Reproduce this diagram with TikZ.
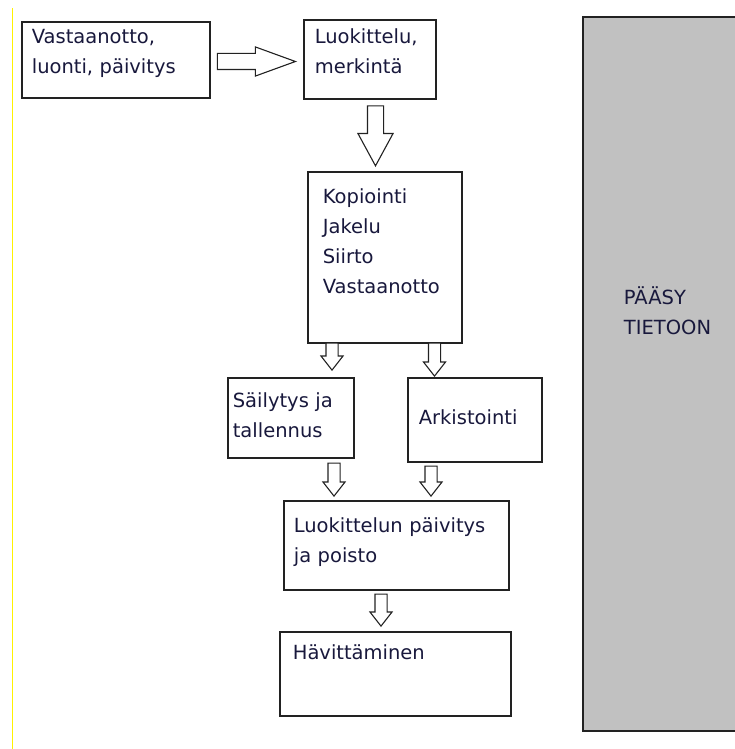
\documentclass[tikz,border=0pt]{standalone}
\usepackage{fontspec}
\setmainfont{DejaVu Sans}
\usepackage{xcolor}
\usetikzlibrary{shapes.arrows, positioning, calc}
\definecolor{inkblue}{RGB}{24,24,60}
\definecolor{framegray}{RGB}{34,34,34}
\definecolor{accessgray}{RGB}{193,193,193}

\begin{document}
\begin{tikzpicture}[x=1pt, y=-1pt,
  box/.style={draw=framegray, line width=1.7pt, anchor=north west, inner ysep=0pt,
    align=left, text=inkblue, font=\fontsize{19.5}{30}\selectfont},
  blockarrow/.style={draw=framegray, line width=1.1pt, fill=white, single arrow,
    inner xsep=0pt, anchor=tip},
  longarrow/.style={blockarrow, inner ysep=7.5pt, single arrow head extend=6.5pt,
    single arrow tip angle=40, minimum height=78pt},
  bigarrow/.style={blockarrow, inner ysep=7.5pt, single arrow head extend=9.5pt,
    single arrow tip angle=57, minimum height=60pt, rotate=-90},
  smallarrow/.style={blockarrow, inner ysep=5.5pt, single arrow head extend=5pt,
    single arrow tip angle=76, minimum height=#1, rotate=-90}]
\useasboundingbox (0,0) rectangle (735,749);

% faint edge line of the scan
\draw[yellow, line width=1pt] (12,8) -- (12,749);

% access column
\node[box, fill=accessgray, line width=1.9pt, inner xsep=41pt, text width=72pt,
  text height=288pt, text depth=426pt] (paasy) at (582,16) {PÄÄSY\\TIETOON};

% boxes
\node[box, inner xsep=10pt, text width=168pt, text height=22pt, text depth=54pt]
  (vast) at (21,21) {Vastaanotto,\\luonti, päivitys};
\node[box, inner xsep=11pt, text width=110pt, text height=24pt, text depth=55pt]
  (luok) at (303,19) {Luokittelu,\\merkintä};
\node[box, inner xsep=15pt, text width=124pt, text height=32pt, text depth=139pt]
  (kopio) at (307,171) {Kopiointi\\Jakelu\\Siirto\\Vastaanotto};
\node[box, inner xsep=5pt, text width=116pt, text height=30pt, text depth=50pt]
  (sail) at (227,377) {Säilytys ja\\tallennus};
\node[box, inner xsep=11pt, text width=112pt, text height=47pt, text depth=37pt]
  (arki) at (407,377) {Arkistointi};
\node[box, inner xsep=10pt, text width=205pt, text height=32pt, text depth=57pt]
  (paiv) at (283,500) {Luokittelun päivitys\\ja poisto};
\node[box, inner xsep=13pt, text width=205pt, text height=28pt, text depth=56pt]
  (havi) at (279,631) {Hävittäminen};

% block arrows, placed by their tips
\node[longarrow] (vast-luok) at (297,61.5) {};
\node[bigarrow] (luok-kopio) at (375.5,167) {};
\node[smallarrow=27pt] (kopio-sail) at (332,371) {};
\node[smallarrow=33pt] (kopio-arki) at (434.5,377) {};
\node[smallarrow=33pt] (sail-paiv) at (334,497) {};
\node[smallarrow=30pt] (arki-paiv) at (431,497) {};
\node[smallarrow=32pt] (paiv-havi) at (381,627) {};
\end{tikzpicture}
\end{document}
